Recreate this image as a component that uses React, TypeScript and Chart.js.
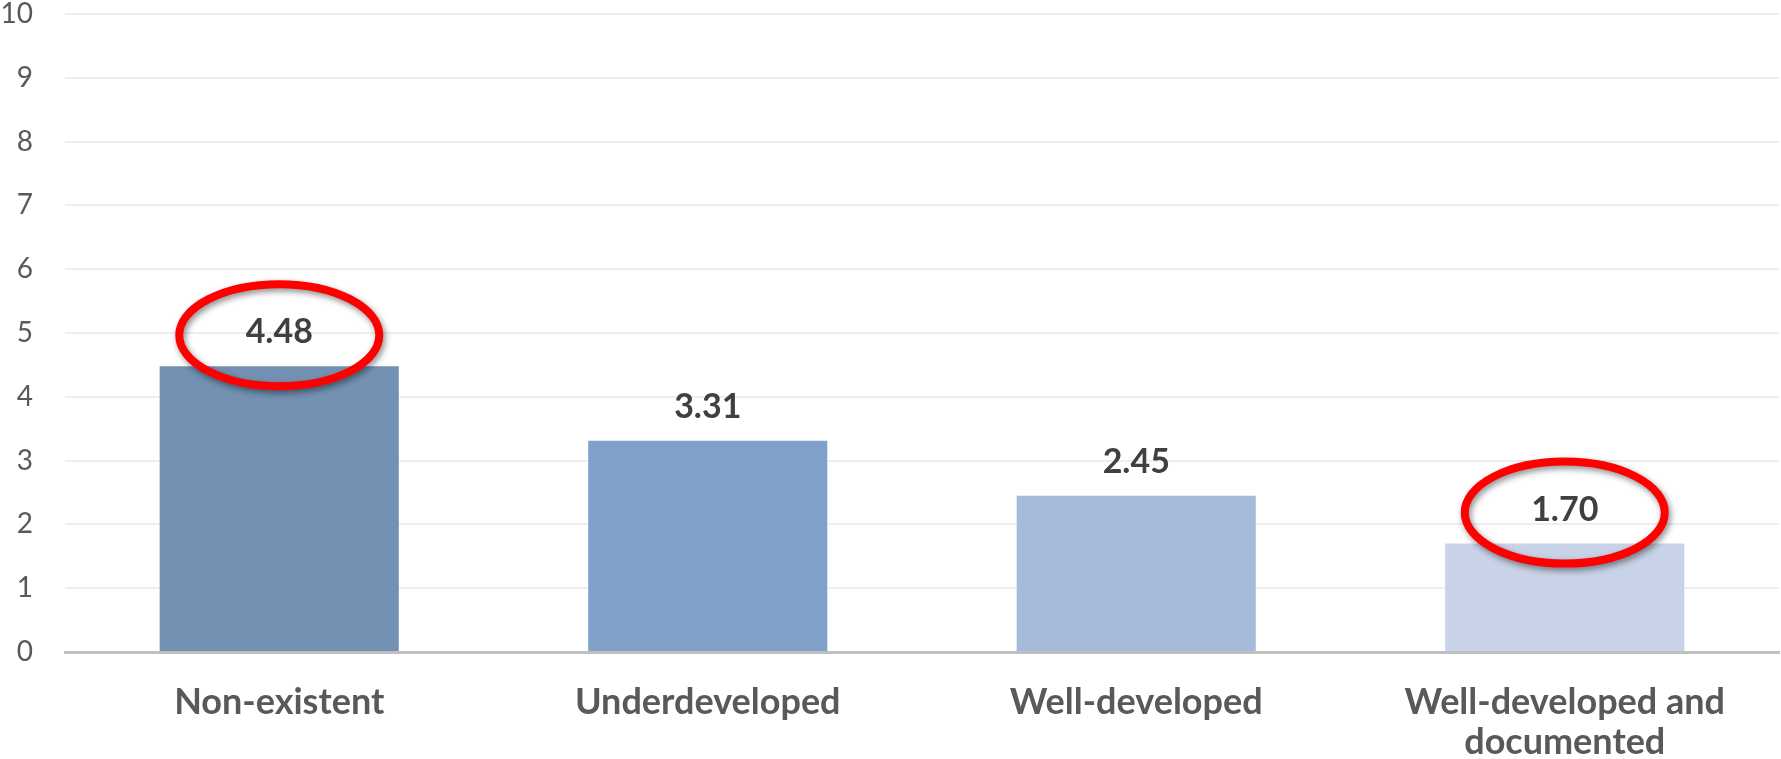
import React, { useEffect, useRef } from "react";
import { Chart, registerables } from "chart.js";

Chart.register(...registerables);

const categories: (string | string[])[] = [
  "Non-existent",
  "Underdeveloped",
  "Well-developed",
  ["Well-developed and", "documented"],
];
const values: number[] = [4.48, 3.31, 2.45, 1.7];
const barColors: string[] = ["#7391B2", "#7FA1C9", "#A6BBDA", "#C9D3E7"];
const highlighted: number[] = [0, 3];
const yTicks: number[] = [0, 1, 2, 3, 4, 5, 6, 7, 8, 9, 10];

const FONT = "Lato, 'Open Sans', sans-serif";

const valueLabelPlugin = {
  id: "valueLabels",
  afterDatasetsDraw(chart: any) {
    const ctx = chart.ctx;
    const meta = chart.getDatasetMeta(0);
    ctx.save();
    ctx.font = `bold 34px ${FONT}`;
    ctx.fillStyle = "#404040";
    ctx.textAlign = "center";
    ctx.textBaseline = "middle";
    meta.data.forEach((bar: any, i: number) => {
      ctx.fillText(values[i].toFixed(2), bar.x, bar.y - 34);
    });
    ctx.restore();
  },
};

const ellipsePlugin = {
  id: "ellipses",
  afterDraw(chart: any) {
    const ctx = chart.ctx;
    const meta = chart.getDatasetMeta(0);
    highlighted.forEach((i) => {
      const bar = meta.data[i];
      if (!bar) return;
      ctx.save();
      ctx.shadowColor = "rgba(0,0,0,0.45)";
      ctx.shadowBlur = 6;
      ctx.shadowOffsetX = 2;
      ctx.shadowOffsetY = 3;
      ctx.strokeStyle = "#FF0000";
      ctx.lineWidth = 8;
      ctx.beginPath();
      ctx.ellipse(bar.x, bar.y - 31, 100, 51, 0, 0, Math.PI * 2);
      ctx.stroke();
      ctx.restore();
    });
  },
};

export default function App() {
  const ref = useRef<HTMLCanvasElement>(null);

  useEffect(() => {
    document.body.style.margin = "0";
    const chart = new Chart(ref.current!, {
      type: "bar",
      data: {
        labels: categories,
        datasets: [
          {
            data: values,
            backgroundColor: barColors,
            borderWidth: 0,
            categoryPercentage: 0.558,
            barPercentage: 1,
          },
        ],
      },
      options: {
        animation: false,
        responsive: false,
        maintainAspectRatio: false,
        layout: { padding: { top: 14, right: 2, left: 0, bottom: 0 } },
        plugins: {
          legend: { display: false },
          tooltip: { enabled: false },
        },
        scales: {
          x: {
            grid: { display: false, drawTicks: false },
            border: { display: true, color: "#BFBFBF", width: 3 },
            ticks: {
              color: "#595959",
              font: { family: FONT, size: 36, weight: "bold", lineHeight: 1.12 },
              padding: 30,
              maxRotation: 0,
              autoSkip: false,
            },
            afterFit(axis: any) {
              axis.height = 107;
              axis.paddingLeft = 0;
              axis.paddingRight = 0;
            },
          },
          y: {
            min: 0,
            max: 10,
            afterBuildTicks(axis: any) {
              axis.ticks = yTicks.map((v) => ({ value: v }));
            },
            grid: { color: "#EEEEEE", lineWidth: 2, drawTicks: false },
            border: { display: false },
            ticks: {
              color: "#595959",
              font: { family: FONT, size: 28 },
              padding: 32,
            },
            afterFit(axis: any) {
              axis.width = 65;
              axis.paddingTop = 0;
              axis.paddingBottom = 0;
            },
          },
        },
      },
      plugins: [valueLabelPlugin, ellipsePlugin],
    });
    return () => chart.destroy();
  }, []);

  return (
    <div style={{ position: "fixed", left: 0, top: 0, width: 1781, height: 759, background: "#fff" }}>
      <canvas ref={ref} width={1781} height={759} />
    </div>
  );
}
